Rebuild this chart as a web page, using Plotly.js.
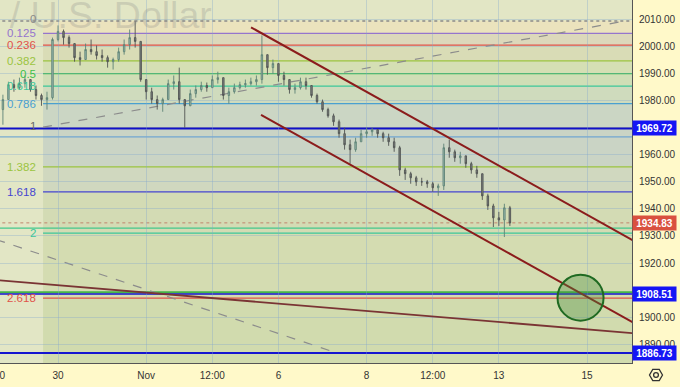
<!DOCTYPE html>
<html><head><meta charset="utf-8">
<script src="https://cdn.plot.ly/plotly-3.0.1.min.js"></script>
<style>html,body{margin:0;padding:0;background:#fff9c9;}#chart{width:680px;height:387px;}</style>
</head><body><div id="chart"></div>
<script>
// ---- time axis (trading-day index, 0 = Oct 30) ----
const tickDays = [0, 2, 3.5, 5, 7, 8.5, 10, 12];
const tickText = ['30', 'Nov', '12:00', '6', '8', '12:00', '13', '15'];
const candleStart = -1.25, candleStep = 0.125; // 3-hour bars

// ---- OHLC ----
const firstOpen = 1976.7;
const closes = [1980.4,1985.9,1984.8,1986.3,1987.8,1984.1,1981.9,1980.4,1981.1,2002.6,
 2005.6,2003.3,2001.1,1995.9,1995.2,1998.9,1998.1,1996.7,1995.9,1994.4,
 1995.2,1998.1,2000.7,2003.3,2001.9,1987.8,1983.3,1980.4,1978.9,1980.4,
 1986.3,1987.0,1980.4,1978.1,1982.6,1984.1,1985.6,1984.8,1987.8,1988.5,
 1981.9,1983.3,1984.8,1985.9,1986.3,1987.0,1987.8,1997.0,1992.2,1993.7,
 1989.3,1987.8,1984.1,1984.8,1987.0,1985.6,1981.9,1979.6,1976.7,1974.4,
 1972.2,1967.8,1963.7,1961.9,1964.8,1967.8,1968.5,1969.3,1967.8,1966.3,
 1964.8,1962.6,1954.4,1953.0,1951.5,1950.0,1950.0,1949.3,1947.8,1948.5,
 1962.6,1961.1,1958.9,1959.6,1956.7,1954.4,1953.0,1944.8,1941.1,1936.7,
 1935.9,1940.4,1934.8];
const highs = [1982.2,1987.0,1987.8,1988.5,1989.3,1987.8,1985.6,1982.6,1983.3,2003.3,
 2007.8,2006.3,2004.1,2001.1,1998.1,2001.1,2002.6,2000.4,1998.9,1996.7,
 1995.9,1999.6,2002.6,2006.3,2009.3,2001.9,1987.8,1984.8,1981.9,1981.1,
 1987.8,1989.3,1992.2,1980.4,1984.1,1985.6,1987.0,1986.7,1989.3,1990.7,
 1988.5,1984.8,1986.3,1987.0,1987.8,1988.5,1989.3,2004.1,1997.0,1995.2,
 1993.7,1990.7,1987.8,1986.3,1988.5,1988.5,1985.6,1982.6,1980.4,1977.4,
 1975.2,1973.0,1970.0,1965.6,1966.3,1969.3,1970.0,1970.0,1969.3,1968.5,
 1967.8,1966.3,1963.3,1955.2,1953.7,1952.2,1951.5,1950.7,1950.0,1949.3,
 1964.1,1965.6,1961.9,1961.1,1959.6,1957.4,1955.9,1953.0,1945.6,1941.9,
 1938.9,1941.9,1941.1];
const lows = [1971.1,1980.4,1983.3,1984.1,1984.8,1983.3,1980.4,1978.1,1976.7,1980.4,
 2001.9,2000.7,1999.6,1994.4,1993.0,1995.2,1997.0,1995.2,1994.4,1992.2,
 1991.5,1994.4,1997.0,1998.9,1999.6,1987.0,1980.4,1978.9,1976.7,1975.9,
 1980.4,1984.1,1978.9,1970.0,1978.1,1981.1,1983.3,1983.3,1984.8,1986.3,
 1980.4,1978.9,1982.6,1984.1,1984.8,1985.6,1985.6,1986.3,1989.6,1990.0,
 1987.0,1985.6,1982.6,1982.6,1984.1,1984.1,1981.1,1978.9,1975.9,1973.7,
 1970.7,1966.3,1961.9,1956.7,1961.1,1964.8,1966.3,1967.0,1966.3,1964.8,
 1963.3,1961.1,1952.2,1950.7,1949.3,1948.5,1948.5,1947.8,1946.3,1944.8,
 1947.0,1958.9,1957.4,1956.7,1955.2,1953.0,1951.5,1943.3,1939.6,1933.3,
 1933.7,1929.6,1933.7];

// ---- Fibonacci retracement ----
const fibRatios = ['0','0.125','0.236','0.382','0.5','0.618','0.786','1','1.382','1.618','2','2.618'];
const fibPrices = [2009.4,2004.9,2000.5,1994.7,1990.0,1985.4,1978.9,1969.72,1955.5,1946.3,1931.05,1907.05];
const fibStartDay = -0.34;

// ---- horizontal price levels ----
const levelPrices = [1969.72, 1966.6, 1932.9, 1909.2, 1908.51, 1886.73];
const lastPrice = 1934.83;
const priceTags = [1969.72, 1934.83, 1908.51, 1886.73];

// ---- trend lines [x0, p0, x1, p1] ----
const upperChannel = [4.378, 2007.1, 13.1, 1927.8];
const lowerChannel = [4.605, 1974.7, 13.1, 1897.5];
const longLine = [-1.4, 1913.66, 13.1, 1893.99];
const dashedUp = [-0.34, 1970.2, 12.85, 2009.4];
const dashedDown = [-1.4, 1928.65, 6.33, 1886.73];
const circleBox = [11.33, 1898.7, 12.375, 1915.65];

// ---- y ticks ----
const yTicks = [2010,2000,1990,1980,1960,1950,1940,1930,1920,1900,1890];

// ================= styles =================
const fibColors = ['#8a8a8a','#9575cd','#e0524a','#9bc43f','#3cbf4a','#3dc79a','#4aa0d0','#6a6a6a','#9bc43f','#4545d0','#3dc79a','#e0524a'];
const zoneColors = ['#ebe3bd','#dcd8bb','#d9dcb6','#d5dfb4','#d0deb6','#cfdbbd','#cbd6c4','#cad4c5','#d0d8bf','#d3dbb4','#d4dcb1','#d1dbae'];
const levelColors = ['#1010c8','#5b9bd5','#45c88c','#45b548','#1515d0','#1515d0'];
const levelWidths = [2, 1, 1.2, 2, 1.5, 2];
const tagColors = ['#1515f5','#d9503f','#1515f5','#1515f5'];

const xs = closes.map((_, i) => candleStart + i * candleStep);
const opens = [firstOpen].concat(closes.slice(0, -1));

const shapes = [];
const XL = -1.4, XR = 13.1;
for (let i = 0; i < fibPrices.length; i++) {
  const top = fibPrices[i];
  const bot = i + 1 < fibPrices.length ? fibPrices[i + 1] : 1870;
  shapes.push({type:'rect', xref:'x', yref:'y', x0:fibStartDay, x1:XR, y0:bot, y1:top,
    fillcolor: zoneColors[i], line:{width:0}, layer:'below'});
}
fibPrices.forEach((p, i) => {
  if (i === 0) {
    shapes.push({type:'line', xref:'x', yref:'y', x0:XL, x1:XR, y0:p, y1:p,
      line:{color:'#8a8a8a', width:1.5, dash:'dot'}, layer:'below'});
  } else {
    shapes.push({type:'line', xref:'x', yref:'y', x0:fibStartDay, x1:XR, y0:p, y1:p,
      line:{color:fibColors[i], width:1.3}, layer:'below'});
  }
});
levelPrices.forEach((p, i) => {
  shapes.push({type:'line', xref:'x', yref:'y', x0:XL, x1:XR, y0:p, y1:p,
    line:{color:levelColors[i], width:levelWidths[i]}, layer:'below'});
});
shapes.push({type:'line', xref:'x', yref:'y', x0:XL, x1:XR, y0:lastPrice, y1:lastPrice,
  line:{color:'#c0866e', width:1, dash:'dot'}, layer:'below'});
[dashedUp, dashedDown].forEach(l => shapes.push({type:'line', xref:'x', yref:'y',
  x0:l[0], y0:l[1], x1:l[2], y1:l[3], line:{color:'#8c8c8c', width:1.2, dash:'dash'}, layer:'below'}));
[upperChannel, lowerChannel].forEach(l => shapes.push({type:'line', xref:'x', yref:'y',
  x0:l[0], y0:l[1], x1:l[2], y1:l[3], line:{color:'#8b1c1c', width:2}, layer:'above'}));
shapes.push({type:'line', xref:'x', yref:'y', x0:longLine[0], y0:longLine[1], x1:longLine[2], y1:longLine[3],
  line:{color:'#7a3434', width:1.8}, layer:'above'});
shapes.push({type:'circle', xref:'x', yref:'y', x0:circleBox[0], y0:circleBox[1], x1:circleBox[2], y1:circleBox[3],
  fillcolor:'rgba(70,140,60,0.35)', line:{color:'#1f6a22', width:2}, layer:'above'});
shapes.push({type:'path', xref:'paper', yref:'paper', xsizemode:'pixel', ysizemode:'pixel', xanchor:1, yanchor:0,
  path:'M 30.5 -12 L 27.25 -6.4 L 20.75 -6.4 L 17.5 -12 L 20.75 -17.6 L 27.25 -17.6 Z',
  line:{color:'#333', width:1.3}, fillcolor:'rgba(0,0,0,0)'});
shapes.push({type:'circle', xref:'paper', yref:'paper', xsizemode:'pixel', ysizemode:'pixel', xanchor:1, yanchor:0,
  x0:21.6, x1:26.4, y0:-14.4, y1:-9.6, line:{color:'#333', width:1.3}});

const annotations = [];
annotations.push({x:214/632, y:1-15/363, xref:'paper', yref:'paper', text:'Gold / U.S. Dollar', showarrow:false,
  xanchor:'right', yanchor:'middle', font:{family:'Liberation Sans, Arial, sans-serif', size:37.5, color:'rgba(130,130,130,0.25)'}});
fibRatios.forEach((r, i) => {
  annotations.push({x:fibStartDay, y:fibPrices[i], xref:'x', yref:'y', text:r, showarrow:false,
    xanchor:'right', yanchor:'middle', xshift:-5, yshift:(i===0||i===7)?2:0,
    font:{family:'Liberation Sans, Arial, sans-serif', size:11.5, color:fibColors[i]}});
});
priceTags.forEach((p, i) => {
  annotations.push({x:1, y:p, xref:'paper', yref:'y', text:'<b>'+p.toFixed(2)+'</b>', showarrow:false,
    xanchor:'left', yanchor:'middle', width:41, height:12, bgcolor:tagColors[i], borderpad:1,
    font:{family:'Liberation Sans, Arial, sans-serif', size:10, color:'#ffffff'}});
});
annotations.push({x:-8/632, y:0, xref:'paper', yref:'paper', text:'12:00', showarrow:false,
  xanchor:'center', yanchor:'middle', yshift:-12, font:{family:'Liberation Sans, Arial, sans-serif', size:10, color:'#333'}});

const trace = {
  type:'candlestick', x:xs, open:opens, high:highs, low:lows, close:closes,
  increasing:{line:{color:'#5d8276', width:0.9}, fillcolor:'#9fbcb1'},
  decreasing:{line:{color:'#505452', width:0.9}, fillcolor:'#7f8482'},
  whiskerwidth:0, hoverinfo:'skip'
};

const layout = {
  width:680, height:387, margin:{l:0, r:48, t:0, b:24},
  paper_bgcolor:'#fff9c9', plot_bgcolor:'#e2e6c5', showlegend:false, boxgap:0.62,
  font:{family:'Liberation Sans, Arial, sans-serif', size:10, color:'#333'},
  xaxis:{range:[-1.316, 13.02], tickvals:tickDays, ticktext:tickText, showgrid:true,
    gridcolor:'rgba(130,165,205,0.35)', zeroline:false, showline:true, linecolor:'#555', linewidth:1,
    ticks:'', tickfont:{size:10, color:'#333'}, ticklabelstandoff:3, rangeslider:{visible:false}, fixedrange:true},
  yaxis:{side:'right', range:[1883.04, 2017.2], tickvals:yTicks, ticktext:yTicks.map(v => v.toFixed(2)),
    showgrid:true, gridcolor:'rgba(130,165,205,0.35)', zeroline:false, showline:true, linecolor:'#555', linewidth:1,
    ticks:'', tickfont:{size:10, color:'#333'}, ticklabelstandoff:4, fixedrange:true},
  shapes:shapes, annotations:annotations
};
Plotly.newPlot('chart', [trace], layout, {displayModeBar:false, staticPlot:true});
</script></body></html>
